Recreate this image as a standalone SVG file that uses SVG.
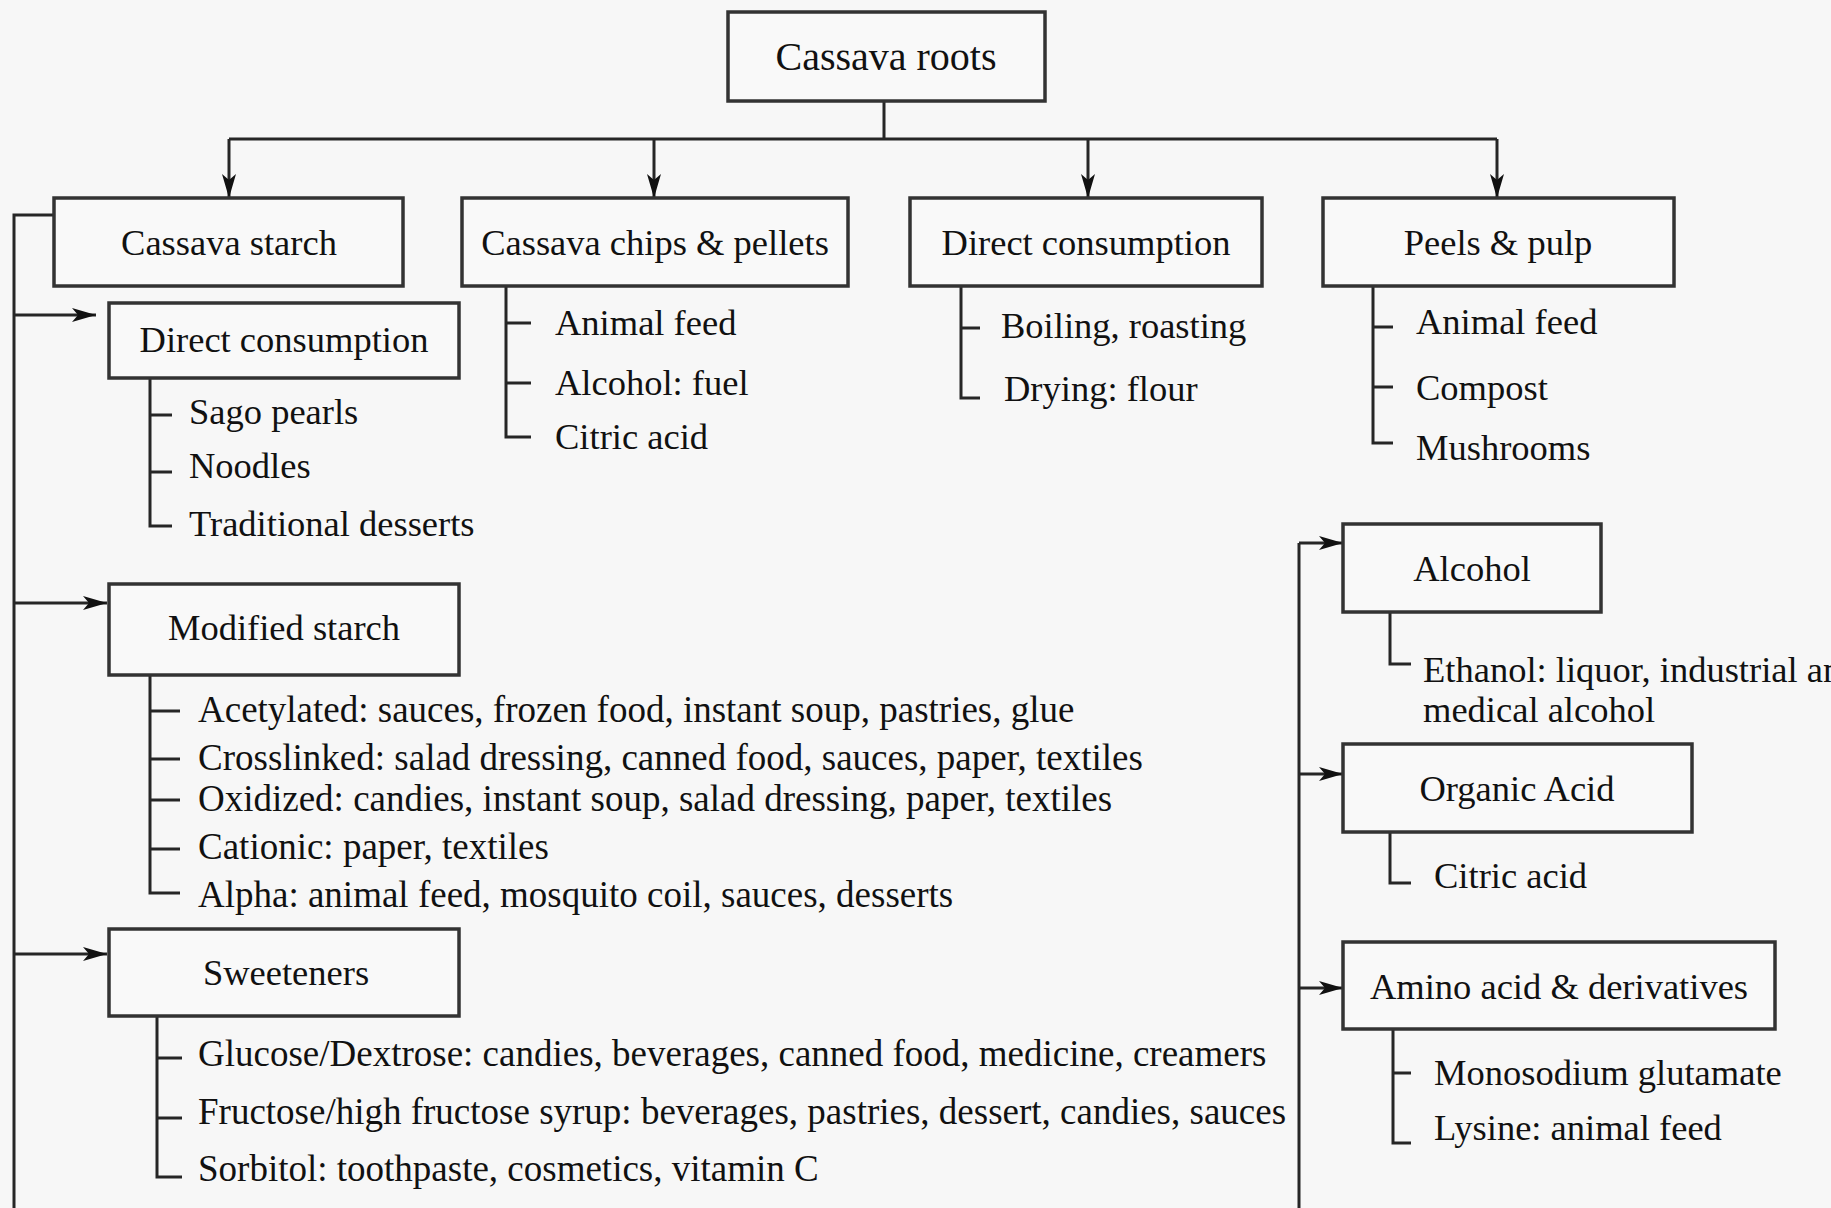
<svg xmlns="http://www.w3.org/2000/svg" width="1831" height="1208" viewBox="0 0 1831 1208">
<style>
.bg{fill:#f7f7f7}
.box{fill:#f9f9f9;stroke:#333;stroke-width:3.5}
.ln{fill:none;stroke:#262626;stroke-width:3}
.arr{fill:none;stroke:#262626;stroke-width:3;marker-end:url(#ah)}
.lbl{font-family:"Liberation Serif","Times New Roman",serif;font-size:36.5px;fill:#111;text-anchor:middle}
.itm{font-family:"Liberation Serif","Times New Roman",serif;font-size:36.5px;fill:#111}
.big{font-size:37px}
</style>
<defs>
<marker id="ah" markerUnits="userSpaceOnUse" markerWidth="24" markerHeight="14" refX="24" refY="7" orient="auto">
<path d="M0,0 L24,7 L0,14 L6,7 Z" fill="#111"/>
</marker>
</defs>
<rect class="bg" x="0" y="0" width="1831" height="1208"/>

<g id="connectors">
<path class="ln" d="M884,101 V139 M229,139 H1497"/>
<path class="arr" d="M229,139 V198"/>
<path class="arr" d="M654,139 V198"/>
<path class="arr" d="M1088,139 V198"/>
<path class="arr" d="M1497,139 V198"/>
<path class="ln" d="M54,215 H14 V1208"/>
<path class="arr" d="M14,315 H96"/>
<path class="arr" d="M14,603 H107"/>
<path class="arr" d="M14,954 H107"/>
<path class="ln" d="M1299,1208 V543"/>
<path class="arr" d="M1299,543 H1343"/>
<path class="arr" d="M1299,774 H1343"/>
<path class="arr" d="M1299,988 H1343"/>
<path class="ln" d="M506,286 V437 H531 M506,323 H531 M506,383 H531"/>
<path class="ln" d="M961,286 V398 H980 M961,328 H980"/>
<path class="ln" d="M1373,286 V443 H1393 M1373,327 H1393 M1373,387 H1393"/>
<path class="ln" d="M150,378 V526 H172 M150,415 H172 M150,472 H172"/>
<path class="ln" d="M150,675 V893 H180 M150,711 H180 M150,759 H180 M150,800 H180 M150,849 H180"/>
<path class="ln" d="M157,1017 V1177 H182 M157,1058 H182 M157,1118 H182"/>
<path class="ln" d="M1390,612 V664 H1411"/>
<path class="ln" d="M1390,832 V883 H1411"/>
<path class="ln" d="M1393,1029 V1143 H1411 M1393,1073 H1411"/>
</g>

<g id="cassava-roots">
<rect class="box" x="728" y="12" width="317" height="89"/>
<text class="lbl" x="886" y="70" style="font-size:40px">Cassava roots</text>
</g>

<g id="cassava-starch">
<rect class="box" x="54" y="198" width="349" height="88"/>
<text class="lbl" x="229" y="255">Cassava starch</text>
</g>

<g id="chips-pellets">
<rect class="box" x="462" y="198" width="386" height="88"/>
<text class="lbl" x="655" y="255">Cassava chips &amp; pellets</text>
<text class="itm" x="555" y="335">Animal feed</text>
<text class="itm" x="555" y="395">Alcohol: fuel</text>
<text class="itm" x="555" y="449">Citric acid</text>
</g>

<g id="direct-consumption-roots">
<rect class="box" x="910" y="198" width="352" height="88"/>
<text class="lbl" x="1086" y="255">Direct consumption</text>
<text class="itm" x="1001" y="338">Boiling, roasting</text>
<text class="itm" x="1004" y="401">Drying: flour</text>
</g>

<g id="peels-pulp">
<rect class="box" x="1323" y="198" width="351" height="88"/>
<text class="lbl" x="1498" y="255">Peels &amp; pulp</text>
<text class="itm" x="1416" y="334">Animal feed</text>
<text class="itm" x="1416" y="400">Compost</text>
<text class="itm" x="1416" y="460">Mushrooms</text>
</g>

<g id="direct-consumption-starch">
<rect class="box" x="109" y="303" width="350" height="75"/>
<text class="lbl" x="284" y="352">Direct consumption</text>
<text class="itm" x="189" y="424">Sago pearls</text>
<text class="itm" x="189" y="478">Noodles</text>
<text class="itm" x="189" y="536">Traditional desserts</text>
</g>

<g id="modified-starch">
<rect class="box" x="109" y="584" width="350" height="91"/>
<text class="lbl" x="284" y="640">Modified starch</text>
<text class="itm big" x="198" y="722">Acetylated: sauces, frozen food, instant soup, pastries, glue</text>
<text class="itm big" x="198" y="770">Crosslinked: salad dressing, canned food, sauces, paper, textiles</text>
<text class="itm big" x="198" y="811">Oxidized: candies, instant soup, salad dressing, paper, textiles</text>
<text class="itm big" x="198" y="859">Cationic: paper, textiles</text>
<text class="itm big" x="198" y="907">Alpha: animal feed, mosquito coil, sauces, desserts</text>
</g>

<g id="sweeteners">
<rect class="box" x="109" y="929" width="350" height="87"/>
<text class="lbl" x="286" y="985">Sweeteners</text>
<text class="itm big" x="198" y="1066">Glucose/Dextrose: candies, beverages, canned food, medicine, creamers</text>
<text class="itm big" x="198" y="1124">Fructose/high fructose syrup: beverages, pastries, dessert, candies, sauces</text>
<text class="itm big" x="198" y="1181">Sorbitol: toothpaste, cosmetics, vitamin C</text>
</g>

<g id="alcohol">
<rect class="box" x="1343" y="524" width="258" height="88"/>
<text class="lbl" x="1472" y="581">Alcohol</text>
<text class="itm" x="1423" y="682">Ethanol: liquor, industrial and</text>
<text class="itm" x="1423" y="722">medical alcohol</text>
</g>

<g id="organic-acid">
<rect class="box" x="1343" y="744" width="349" height="88"/>
<text class="lbl" x="1517" y="801">Organic Acid</text>
<text class="itm" x="1434" y="888">Citric acid</text>
</g>

<g id="amino-acid">
<rect class="box" x="1343" y="942" width="432" height="87"/>
<text class="lbl" x="1559" y="999">Amino acid &amp; derivatives</text>
<text class="itm" x="1434" y="1085">Monosodium glutamate</text>
<text class="itm" x="1434" y="1140">Lysine: animal feed</text>
</g>
</svg>
